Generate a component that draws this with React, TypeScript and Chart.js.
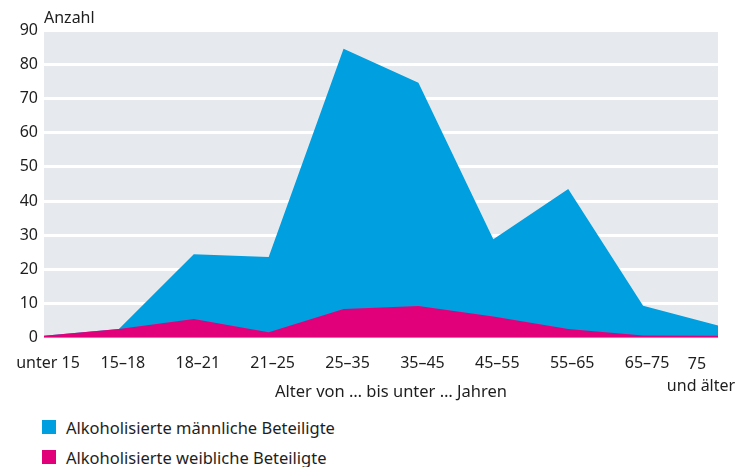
import React, { useEffect, useRef } from "react";
import { Chart, registerables } from "chart.js";

Chart.register(...registerables);

// ---- data ----
const categories = ["unter 15", "15–18", "18–21", "21–25", "25–35", "35–45", "45–55", "55–65", "65–75", "75 und älter"];
const lastLabelLines = ["75", "und älter"];
const maleValues = [0.6, 2.6, 24.4, 23.6, 84.5, 74.6, 28.8, 43.5, 9.4, 3.6];
const femaleValues = [0.6, 2.6, 5.5, 1.6, 8.4, 9.3, 6.2, 2.6, 0.7, 0.6];
const seriesLabels = ["Alkoholisierte männliche Beteiligte", "Alkoholisierte weibliche Beteiligte"];
const yTicks = [0, 10, 20, 30, 40, 50, 60, 70, 80, 90];
const yTitle = "Anzahl";
const xTitle = "Alter von … bis unter … Jahren";

const BLUE = "#009fe0";
const PINK = "#e2007a";
const PLOT_BG = "#e6eaee";
const TEXT = "#1e1e1e";
const FONT = "'Noto Sans', sans-serif";
const FONT_SIZE = 16;

const decor = {
  id: "decor",
  beforeDraw(chart: any) {
    const { ctx, chartArea } = chart;
    ctx.save();
    ctx.fillStyle = PLOT_BG;
    ctx.fillRect(chartArea.left, chartArea.top, chartArea.right - chartArea.left, chartArea.bottom - chartArea.top);
    ctx.restore();
  },
  afterDraw(chart: any) {
    const { ctx, chartArea, scales } = chart;
    ctx.save();
    ctx.font = `${FONT_SIZE}px ${FONT}`;
    ctx.fillStyle = TEXT;
    ctx.textBaseline = "middle";
    ctx.textAlign = "left";
    ctx.fillText(yTitle, chartArea.left, chartArea.top - 12);
    const x = scales.x.getPixelForValue(categories.length - 1);
    ctx.textAlign = "center";
    ctx.fillText(lastLabelLines[0], x - 21, chartArea.bottom + 27);
    ctx.fillText(lastLabelLines[1], x - 17, chartArea.bottom + 49);
    ctx.font = `16.5px ${FONT}`;
    ctx.fillText(xTitle, (chartArea.left + chartArea.right) / 2 + 10, chartArea.bottom + 54);
    ctx.restore();
  },
};

export default function App() {
  const ref = useRef<HTMLCanvasElement | null>(null);
  useEffect(() => {
    if (!ref.current) return;
    const chart = new Chart(ref.current, {
      type: "line",
      data: {
        labels: categories,
        datasets: [
          {
            label: seriesLabels[0],
            data: maleValues,
            backgroundColor: BLUE,
            borderColor: BLUE,
            borderWidth: 0,
            pointRadius: 0,
            fill: "origin",
            order: 2,
            tension: 0,
          },
          {
            label: seriesLabels[1],
            data: femaleValues,
            backgroundColor: PINK,
            borderColor: PINK,
            borderWidth: 0,
            pointRadius: 0,
            fill: "origin",
            order: 1,
            tension: 0,
          },
        ],
      },
      options: {
        animation: false,
        responsive: false,
        layout: { padding: { left: 0, right: 19, top: 30, bottom: 13 } },
        plugins: { legend: { display: false }, tooltip: { enabled: false } },
        scales: {
          x: {
            grid: { display: false, drawTicks: false },
            border: { display: false },
            ticks: {
              color: TEXT,
              font: { family: FONT, size: FONT_SIZE },
              padding: 16,
              labelOffset: 4,
              maxRotation: 0,
              autoSkip: false,
              callback: (_v: any, i: number) => (i === categories.length - 1 ? "" : categories[i]),
            },
            afterFit: (s: any) => {
              s.paddingLeft = 0;
              s.paddingRight = 0;
            },
          },
          y: {
            min: yTicks[0],
            max: yTicks[yTicks.length - 1],
            grid: { color: "#ffffff", lineWidth: 3, drawTicks: false },
            border: { display: false },
            afterBuildTicks: (s: any) => {
              s.ticks = yTicks.map((v) => ({ value: v }));
            },
            ticks: {
              color: TEXT,
              font: { family: FONT, size: FONT_SIZE },
              padding: 6,
            },
            afterFit: (s: any) => {
              s.width = 44;
            },
          },
        },
      },
      plugins: [decor],
    });
    return () => chart.destroy();
  }, []);

  const legendColors = [BLUE, PINK];
  return (
    <div style={{ position: "absolute", left: 0, top: 0, width: 737, height: 467, background: "#fff", overflow: "hidden" }}>
      <canvas ref={ref} width={737} height={402} style={{ display: "block" }} />
      <div style={{ position: "absolute", left: 42, top: 412, fontFamily: FONT, fontSize: 16.5, color: TEXT }}>
        {seriesLabels.map((l, i) => (
          <div key={l} style={{ display: "flex", alignItems: "center", height: 30 }}>
            <span style={{ display: "inline-block", width: 14, height: 14, background: legendColors[i], marginRight: 10, flex: "none" }} />
            <span>{l}</span>
          </div>
        ))}
      </div>
    </div>
  );
}
